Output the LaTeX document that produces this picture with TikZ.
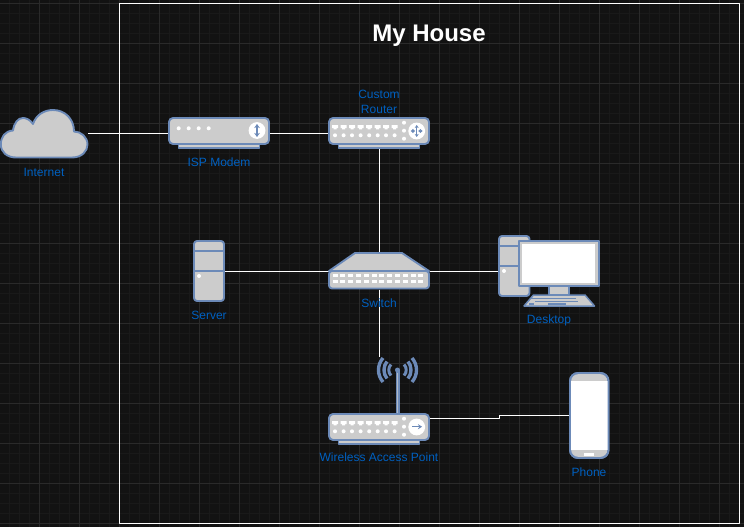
\documentclass[tikz,border=0pt]{standalone}
\usepackage{fontspec}
\setmainfont{Liberation Sans}
\usetikzlibrary{arrows.meta}
\definecolor{pagebg}{HTML}{121212}
\definecolor{gridminor}{HTML}{191919}
\definecolor{gridmajor}{HTML}{2A2A2A}
\definecolor{iconline}{HTML}{6C8AB8}
\definecolor{iconfill}{HTML}{CCCCCC}
\definecolor{labelblue}{HTML}{0060C0}
\tikzset{
  hull/.style={draw=iconline,fill=iconfill,line width=1.9pt,rounded corners=3pt},
  flat/.style={draw=iconline,fill=iconfill,line width=1.9pt},
  seam/.style={draw=iconline,line width=1.9pt},
  lamp/.style={fill=white,draw=none},
  badge/.style={fill=white,draw=none},
  badgearrow/.style={draw=iconline,line width=1.3pt,{Stealth[length=4pt,width=5.5pt]}-{Stealth[length=4pt,width=5.5pt]}},
  wire/.style={draw=white,line width=.9pt},
  devlabel/.style={text=labelblue,font=\fontsize{12}{15}\selectfont,inner sep=0pt,align=center},
  slot/.style={minimum width=0pt,minimum height=0pt,inner sep=0pt,outer sep=0pt,draw=none,fill=none,rectangle}
}
% body shared by the router and the access point
\newcommand{\rackbody}{%
  \path[hull,rounded corners=0pt] (338.5,141) rectangle (419.5,148);
  \path[hull,rounded corners=4pt] (329,118) rectangle (429,144);
  \foreach \px in {335,343.6,352,360.6,369.2,377.7,386,394.6}{
    \fill[lamp] (\px-3,125.2) rectangle (\px+3,128) (\px-1.5,128) rectangle (\px+1.5,129.3);
    \fill[lamp] (\px,135.3) circle[radius=2];
  }
  \foreach \py in {122.7,130.7,138.7}{\fill[lamp] (404,\py) circle[radius=2];}
  \fill[badge] (416.7,131) circle[radius=8.4];
}
\begin{document}
\begin{tikzpicture}[x=1pt,y=-1pt,line join=round]
\useasboundingbox (0,0) rectangle (744,527);
\fill[pagebg] (0,0) rectangle (744,527);
\foreach \gx in {0,...,74}{\draw[gridminor,line width=.8pt] (\gx*10-.5,0) -- (\gx*10-.5,527);}
\foreach \gy in {0,...,52}{\draw[gridminor,line width=.8pt] (0,\gy*10+3.5) -- (744,\gy*10+3.5);}
\foreach \gx in {1,...,18}{\draw[gridmajor,line width=.8pt] (\gx*40-.5,0) -- (\gx*40-.5,527);}
\foreach \gy in {0,...,13}{\draw[gridmajor,line width=.8pt] (0,\gy*40+3.5) -- (744,\gy*40+3.5);}

% node frames, invisible: the connectors run between them
\node[slot,minimum width=88pt,minimum height=49pt] (internet) at (44,133.5) {};
\node[slot,minimum width=100pt,minimum height=31pt] (modem) at (219,133.5) {};
\node[slot,minimum width=100pt,minimum height=31pt] (router) at (379.5,133.5) {};
\node[slot,minimum width=100pt,minimum height=36pt] (switch) at (379.5,271.5) {};
\node[slot,minimum width=30pt,minimum height=60.6pt] (server) at (209,271.5) {};
\node[slot,minimum width=101pt,minimum height=70.6pt] (desktop) at (549,271.5) {};
\node[slot,minimum width=100pt,minimum height=86pt] (ap) at (379.5,400) {};
\node[slot,minimum width=40pt,minimum height=86pt] (phone) at (589.3,415.5) {};

\draw[draw=white,line width=1.3pt] (119.5,3.5) rectangle (739.5,523.5);

\draw[wire] (internet.east) -- (modem.west);
\draw[wire] (modem.east) -- (router.west);
\draw[wire] (router.south) -- (switch.north);
\draw[wire] (switch.west) -- (server.east);
\draw[wire] (switch.east) -- (desktop.west);
\draw[wire] (switch.south) -- (ap.north);
\draw[wire] ([yshift=-18pt]ap.east) -- ++(70,0) -- ++(0,-2.5) -- (phone.west);

% Internet
\path[flat] (16,157.5) -- (72,157.5)
  .. controls (82,157.5) and (87.5,151) .. (87.5,144.5)
  .. controls (87.5,137) and (81,131.5) .. (74,131.5)
  .. controls (74,119) and (65,110) .. (53,110)
  .. controls (44,110) and (36,115) .. (33,124)
  .. controls (30,119.5) and (26,118) .. (23,118)
  .. controls (18,118) and (14,123) .. (13,130.5)
  .. controls (5,131) and (.8,137) .. (.8,144.5)
  .. controls (.8,152) and (7,157.5) .. (16,157.5) -- cycle;

% ISP Modem
\path[hull,rounded corners=0pt] (178.5,141) rectangle (259.5,148);
\path[hull,rounded corners=4pt] (169,118) rectangle (269,144);
\foreach \px in {178.7,188.7,198.7,208.7}{\fill[lamp] (\px,128.3) circle[radius=2];}
\fill[badge] (257,130.5) circle[radius=8.4];
\draw[badgearrow] (257,124) -- (257,137);

% Custom Router
\rackbody
\draw[draw=iconline,line width=1pt,{Stealth[length=3pt,width=4pt]}-{Stealth[length=3pt,width=4pt]}] (410.7,131) -- (415.2,131);
\draw[draw=iconline,line width=1pt,{Stealth[length=3pt,width=4pt]}-{Stealth[length=3pt,width=4pt]}] (418.2,131) -- (422.7,131);
\draw[draw=iconline,line width=1pt,{Stealth[length=3pt,width=4pt]}-{Stealth[length=3pt,width=4pt]}] (416.7,125) -- (416.7,137);

% Switch
\path[flat] (355,253) -- (402,253) -- (429,271) -- (329,271) -- cycle;
\path[hull] (329,271) rectangle (429,288.5);
\foreach \px in {335,342.8,350.6,358.4,366.2,374,381.8,389.6,397.4,405.2,413,420.8}{
  \fill[lamp] (\px-2.5,274.3) rectangle (\px+2.5,277.2);
  \fill[lamp] (\px-2.5,280.3) rectangle (\px+2.5,283.2);
}

% Server
\path[hull] (194,241) rectangle (224,301);
\draw[seam] (194,250.8) -- (224,250.8);
\draw[seam] (194,270.8) -- (224,270.8);
\fill[lamp] (199,276) circle[radius=2];

% Desktop
\path[hull] (499,236) rectangle (529.5,296);
\draw[seam] (499,245.8) -- (519,245.8);
\draw[seam] (499,265.8) -- (519,265.8);
\fill[lamp] (504,271) circle[radius=2];
\path[flat] (549,286) rectangle (569,294.5);
\path[flat] (519,241) rectangle (599,286);
\fill[white] (522,243.5) rectangle (595,283);
\path[flat,line width=1.5pt] (533.5,295) -- (585,295) -- (594.5,306) -- (524,306) -- cycle;
\draw[iconline,line width=1.2pt] (531,298.5) -- (576,298.5) (587,298.5) -- (589,298.5) (535,301.5) -- (578,301.5);
\draw[iconline,line width=1.2pt] (548,304) -- (566,304) (529,304) -- (534,304);

% Wireless Access Point
\begin{scope}[shift={(0,296)}]
\rackbody
\draw[draw=iconline,line width=1.3pt,-{Stealth[length=4pt,width=5pt]}] (412,426.7-296) -- (422,426.7-296);
\end{scope}
\draw[iconline,line width=4pt] (397.5,369.5) -- (397.5,414);
\draw[iconfill!70!iconline,line width=.7pt] (397.5,373) -- (397.5,413);
\fill[iconline] (397.5,370) circle[radius=2.5];
\foreach \lw/\ax/\bx/\ay/\by in {3.4/383/377/358/365, 3.4/387/383/361.5/366, 3/391/388/364.5/367.5}{
  \draw[iconline,line width=\lw pt] (\ax,\ay) .. controls (\bx,\by) and (\bx,740-\by) .. (\ax,740-\ay);
  \draw[iconline,line width=\lw pt] (795-\ax,\ay) .. controls (795-\bx,\by) and (795-\bx,740-\by) .. (795-\ax,740-\ay);
}

% Phone
\path[hull,rounded corners=8pt] (570,373) rectangle (608.5,458);
\fill[white] (570.6,380.7) rectangle (608,450);
\draw[draw=iconline,line width=1.9pt,rounded corners=8pt] (570,373) rectangle (608.5,458);
\fill[lamp] (584.3,452.7) rectangle (594,456);

% labels
\node[devlabel] (internetlabel) at (44,172) {Internet};
\node[devlabel] (modemlabel) at (219,162) {ISP Modem};
\node[devlabel] (routerlabel) at (379,101.5) {Custom\\Router};
\node[devlabel] (switchlabel) at (379,303) {Switch};
\node[devlabel] (serverlabel) at (209,315) {Server};
\node[devlabel] (desktoplabel) at (549,320.5) {Desktop};
\node[devlabel] (aplabel) at (379,457) {Wireless Access Point};
\node[devlabel] (phonelabel) at (589,472) {Phone};
\node[text=white,font=\fontsize{24}{28}\selectfont\bfseries,inner sep=0pt] (title) at (429,36) {My House};
\end{tikzpicture}
\end{document}
